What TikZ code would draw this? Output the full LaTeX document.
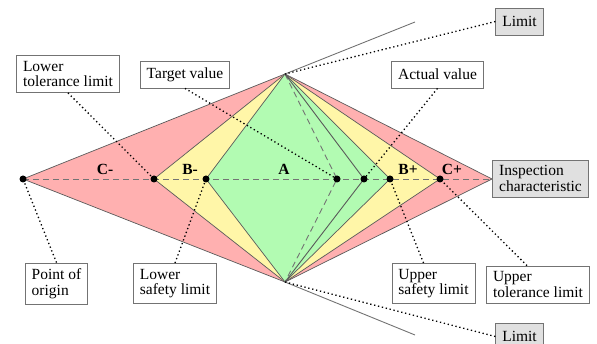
\documentclass[tikz,border=0pt]{standalone}
\usepackage{fontspec}
\setmainfont{Liberation Serif}
\usetikzlibrary{arrows.meta}

\definecolor{zoneC}{HTML}{FFB0B0}
\definecolor{zoneB}{HTML}{FFF6A8}
\definecolor{zoneA}{HTML}{B2FBB2}
\definecolor{edge}{HTML}{5A5A5A}
\definecolor{tagfill}{HTML}{E0E0E0}

\begin{document}
\begin{tikzpicture}[x=1pt, y=-1pt,
    tag/.style={rectangle, draw=black!55, line width=0.8pt, align=left,
                inner xsep=6.5pt, inner ysep=5.5pt, minimum height=27pt,
                font=\fontsize{15.5}{15.7}\selectfont},
    greytag/.style={tag, fill=tagfill},
    zone/.style={draw=edge, line width=0.7pt, line join=round},
    limitline/.style={draw=black!55, line width=0.9pt},
    pointer/.style={line width=1.3pt, dash pattern=on 1.3pt off 2.7pt},
    axisline/.style={draw=black!55, line width=0.9pt, dash pattern=on 6pt off 4pt},
    zonelabel/.style={font=\fontsize{15.5}{16}\selectfont\bfseries, anchor=base}
  ]
  \useasboundingbox (0,0) rectangle (597,344);

  % points on the characteristic axis
  \coordinate (pO)  at (23,179);
  \coordinate (pLT) at (154,179);
  \coordinate (pLS) at (206,179);
  \coordinate (pT)  at (337,179);
  \coordinate (pAV) at (364,179);
  \coordinate (pUS) at (390,179);
  \coordinate (pUT) at (440,179);
  \coordinate (tip) at (492,179);
  % apexes and limit ends
  \coordinate (top)   at (285,74);
  \coordinate (bot)   at (285,282);
  \coordinate (limup) at (415,22);
  \coordinate (limdn) at (415,335);

  % zones
  \draw[zone, fill=zoneC] (pO) -- (top) -- (tip) -- (bot) -- cycle;
  \draw[zone, fill=zoneB] (pLT) -- (top) -- (pUT) -- (bot) -- cycle;
  \draw[zone, fill=zoneA] (pLS) -- (top) -- (pUS) -- (bot) -- cycle;
  \draw[limitline] (top) -- (limup);
  \draw[limitline] (bot) -- (limdn);
  \draw[axisline] (top) -- (pT) -- (bot);
  \draw[edge, line width=0.9pt] (top) -- (pAV) -- (bot);
  \draw[axisline] (pO) -- (tip);

  \foreach \x/\t/\n in {105/C-/cm, 190/B-/bm, 284/A/za, 408/B+/bp, 452/C+/cp}
    \node[zonelabel] (\n) at (\x,175) {\t};

  % labels
  \node[tag] (ltl) at (68,74) {Lower\\tolerance limit};
  \node[tag] (tv) at (185,74.5) {Target value};
  \node[greytag] (limA) at (519.5,21.5) {Limit};
  \node[tag] (av) at (437.5,74.5) {Actual value};
  \node[greytag] (ic) at (540.5,178.5) {Inspection\\characteristic};
  \node[tag] (po) at (56.5,283.5) {Point of\\origin};
  \node[tag] (lsl) at (175,283.5) {Lower\\safety limit};
  \node[tag] (usl) at (433.5,283.5) {Upper\\safety limit};
  \node[tag] (utl) at (538,284.5) {Upper\\tolerance limit};
  \node[greytag] (limB) at (519.5,336.5) {Limit};

  \foreach \a/\b in {ltl.south/pLT, tv.south/pT, limA.west/top, av.south/pAV,
                     po.north/pO, lsl.north/pLS, limB.west/bot}
    \draw[pointer] (\a) -- (\b);
  \draw[pointer] ([xshift=-10pt]usl.north) -- (pUS);
  \draw[pointer] ([xshift=-11pt]utl.north) -- (pUT);

  \foreach \p in {pO, pLT, pLS, pT, pAV, pUS, pUT}
    \fill (\p) circle (3.5pt);
\end{tikzpicture}
\end{document}
